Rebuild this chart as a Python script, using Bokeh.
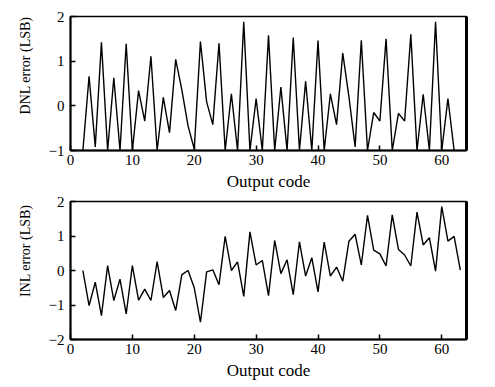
from bokeh.plotting import figure
from bokeh.layouts import column
from bokeh.models import Range1d, FixedTicker, LinearAxis, Title
from bokeh.embed import file_html
from bokeh.resources import INLINE

dnl_codes = list(range(2, 63))
dnl_values = [-1, 0.66, -0.92, 1.42, -1, 0.63, -1, 1.39, -1, 0.34,
              -0.34, 1.11, -1, 0.19, -0.6, 1.04, 0.35, -0.45, -0.97, 1.44,
              0.09, -0.42, 1.4, -1, 0.27, -1, 1.88, -1, 0.16, -1,
              1.58, -1, 0.42, -1, 1.53, -1, 0.55, -1, 1.46, -1,
              0.27, -0.42, 1.18, 0.2, -0.92, 1.47, -1, -0.15, -0.34, 1.5,
              -1, -0.17, -0.34, 1.6, -1, 0.26, -1, 1.88, -1, 0.16, -1]

inl_codes = list(range(2, 64))
inl_values = [0, -1.02, -0.34, -1.31, 0.14, -0.87, -0.25, -1.26, 0.14, -0.86,
              -0.54, -0.87, 0.26, -0.78, -0.58, -1.16, -0.12, 0.0, -0.5, -1.5,
              -0.04, 0.02, -0.41, 0.99, 0.0, 0.25, -0.75, 1.12, 0.16, 0.29,
              -0.73, 0.87, -0.09, 0.31, -0.7, 0.83, -0.16, 0.37, -0.62, 0.82,
              -0.16, 0.1, -0.31, 0.85, 1.05, 0.16, 1.6, 0.59, 0.48, 0.13,
              1.61, 0.61, 0.45, 0.13, 1.69, 0.74, 0.95, -0.02, 1.85, 0.85,
              0.99, 0.01]

x_ticks = [0, 10, 20, 30, 40, 50, 60]
dnl_yticks = [-1, 0, 1, 2]
inl_yticks = [-2, -1, 0, 1, 2]
x_label = "Output code"
dnl_label = "DNL error (LSB)"
inl_label = "INL error (LSB)"

FONT = "Liberation Serif"


def make_fig(xs, ys, y_lo, y_hi, yticks, ylabel, height, top_border, bottom_border, label_offset):
    p = figure(width=488, height=height, output_backend="svg", toolbar_location=None,
               x_range=Range1d(0, 64), y_range=Range1d(y_lo, y_hi),
               min_border_left=70, min_border_right=22, min_border_top=top_border,
               min_border_bottom=bottom_border)
    p.line(xs, ys, line_color="black", line_width=1.4)
    p.xgrid.visible = False
    p.ygrid.visible = False
    p.outline_line_color = "black"
    p.outline_line_width = 1.5
    p.background_fill_color = "white"
    p.border_fill_color = "white"

    for ax in (p.xaxis[0], p.yaxis[0]):
        ax.axis_line_width = 2
        ax.major_tick_in = 5
        ax.major_tick_out = 0
        ax.minor_tick_in = 0
        ax.minor_tick_out = 0
        ax.major_tick_line_width = 1.5
        ax.major_label_text_font = FONT
        ax.major_label_text_font_size = "15px"
        ax.major_label_text_color = "black"
        ax.axis_label_text_font = FONT
        ax.axis_label_text_font_size = "17px"
        ax.axis_label_text_font_style = "normal"
        ax.axis_label_text_color = "black"

    p.xaxis[0].ticker = FixedTicker(ticks=x_ticks)
    p.xaxis[0].axis_label = x_label
    p.xaxis[0].axis_label_standoff = 4
    p.xaxis[0].major_label_standoff = 4

    p.yaxis[0].ticker = FixedTicker(ticks=yticks)
    p.yaxis[0].major_label_standoff = 6
    p.yaxis[0].major_label_overrides = {t: ("\u2212" + str(-t) if t < 0 else str(t)) for t in yticks}

    ytitle = Title(text=ylabel, align="right", offset=label_offset, standoff=26,
                   text_font=FONT, text_font_size="14px", text_font_style="normal",
                   text_color="black")
    p.add_layout(ytitle, "left")

    right = LinearAxis(axis_line_width=3, major_tick_in=0, major_tick_out=0,
                       minor_tick_in=0, minor_tick_out=0,
                       major_label_text_font_size="0px")
    right.ticker = FixedTicker(ticks=[])
    p.add_layout(right, "right")
    return p


p1 = make_fig(dnl_codes, dnl_values, -1, 2, dnl_yticks, dnl_label, 193, 16, 40, 0)
p2 = make_fig(inl_codes, inl_values, -2, 2, inl_yticks, inl_label, 190, 8, 44, 3)

layout = column(p1, p2, spacing=0)
open("out.html", "w").write(file_html(layout, INLINE))
